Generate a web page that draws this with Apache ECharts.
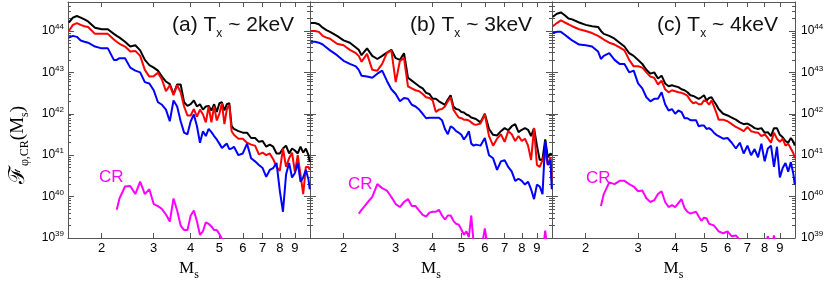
<!DOCTYPE html>
<html><head><meta charset="utf-8">
<script src="https://cdn.jsdelivr.net/npm/echarts@6/dist/echarts.min.js"></script>
<style>html,body{margin:0;padding:0;background:#fff}#c{width:830px;height:286px}</style>
</head><body><div id="c"></div>
<script>
// Shock Mach number grid (shared by all curves)
const mach = [
 1.55,1.6,1.65,1.7,1.75,1.8,1.9,2.0,2.1,2.2,2.25,
 2.3,2.4,2.5,2.6,2.7,2.8,2.9,3.0,3.1,3.2,3.3,3.4,3.5,3.6,3.7,3.8,3.9,
 4.0,4.1,4.2,4.3,4.4,4.5,4.6,4.7,4.8,4.9,5.0,5.1,5.2,5.3,5.4,5.5,5.6,
 5.8,6.0,6.2,6.4,6.6,6.8,7.0,7.2,7.4,7.6,7.8,8.0,8.2,8.4,8.6,8.8,9.0,9.2,9.4,9.6,9.8,10.0,10.1];

// Panel (a) Tx ~ 2keV
const aBlack = [
 1.6e44,2.1e44,2.3e44,2.1e44,1.9e44,1.7e44,1.2e44,1.1e44,1.1e44,8.5e43,7.6e43,
 6.9e43,5.5e43,4.2e43,4.5e43,3.4e43,2.0e43,1.5e43,1.3e43,1.1e43,7.9e42,6.0e42,5.2e42,3.0e42,5.1e42,5.1e42,1.9e42,1.55e42,
 1.7e42,2.1e42,1.5e42,1.7e42,1.26e42,1.5e42,1.55e42,1.2e42,1.7e42,1.1e42,1.8e42,1.9e42,1.2e42,1.7e42,1.8e42,5.0e41,4.3e41,
 3.8e41,3.5e41,3.5e41,2.6e41,2.6e41,2.1e41,2.2e41,1.6e41,1.8e41,1.6e41,1.1e41,1.1e41,1.45e41,1.7e41,1.1e41,1.45e41,1.3e41,1.1e41,1.6e41,1.15e41,1.45e41,1.0e41,6.8e40];
const aRed = [
 1.0e44,1.4e44,1.55e44,1.4e44,1.3e44,1.25e44,8.5e43,8.5e43,8.5e43,6.2e43,5.5e43,
 4.9e43,4.2e43,3.2e43,3.3e43,2.5e43,1.15e43,7.9e42,8.1e42,9.8e42,6.7e42,3.5e42,4.9e42,2.8e42,4.9e42,3.3e42,1.5e42,9.1e41,
 9.1e41,1.3e42,8.5e41,1.26e42,9.6e41,6.2e41,1.5e42,6.2e41,1.5e42,6.9e41,1.0e42,1.8e42,5.6e41,1.3e42,1.65e42,3.8e41,3.1e41,
 2.5e41,2.5e41,2.0e41,1.8e41,1.7e41,1.05e41,1.15e41,1.0e41,1.1e41,8.0e40,5.2e40,4.2e40,1.45e41,5.2e40,8.4e40,1.15e41,3.9e40,1.0e41,3.4e40,1.15e40,5.2e40,5.2e40,4.4e40];
const aBlue = [
 6.9e43,7.6e43,7.2e43,5.9e43,5.5e43,5.2e43,4.2e43,3.8e43,3.8e43,2.0e43,2.0e43,
 2.2e43,2.2e43,1.3e43,1.1e43,1.0e43,5.8e42,5.4e42,3.7e42,1.9e42,1.65e42,1.26e42,6.6e41,2.1e42,1.5e42,6.6e41,3.5e41,3.2e41,
 6.6e41,9.6e41,5.0e41,2.0e41,3.8e41,2.9e41,4.3e41,3.6e41,2.9e41,2.4e41,1.9e41,1.5e41,1.7e41,1.9e41,1.4e41,1.45e41,1.6e41,
 1.0e41,1.1e41,1.9e41,8.4e40,7.1e40,5.8e40,4.9e40,3.0e40,4.4e40,4.9e40,6.5e40,1.4e40,4.3e39,3.4e40,6.5e40,2.9e40,3.7e40,6.5e40,2.3e40,2.9e40,4.4e40,2.6e40,1.5e40];
const aCR = [
 null,null,null,null,null,null,null,null,null,null,4.8e39,
 9.1e39,1.75e40,1.8e40,1.15e40,2.3e40,1.15e40,1.5e40,6.6e39,5.9e39,5.0e39,3.7e39,2.5e39,9e39,4.6e39,2.0e39,1.55e39,1.55e39,
 3.5e39,4.6e39,2.5e39,1.2e39,1.45e39,2.4e39,2.2e39,1.9e39,1.55e39,1.55e39,1.25e39,9.5e38,8e38,null,null,null,null,
 null,null,null,null,null,null,null,null,null,null,null,null,null,null,null,null,null,null,null,null,null,null,null];

// Panel (b) Tx ~ 3keV
const bBlack = [
 1.55e44,1.55e44,1.45e44,1.2e44,1.05e44,9.5e43,7.6e43,5.9e43,5.2e43,4.0e43,3.5e43,
 2.6e43,3.8e43,2.5e43,2.1e43,2.5e43,3.0e43,3.5e43,2.2e43,2.0e43,2.9e43,7.4e42,6.3e42,5.4e42,4.6e42,4.1e42,3.2e42,3.0e42,
 2.3e42,2.3e42,2.0e42,1.8e42,1.65e42,2.2e42,2.8e42,1.5e42,1.3e42,1.26e42,1.1e42,1.07e42,9.6e41,9.1e41,8.1e41,7.8e41,7.5e41,
 6.2e41,1.0e42,4.3e41,3.1e41,3.0e41,3.8e41,4.5e41,4.0e41,5.0e41,5.6e41,3.6e41,4.1e41,4.5e41,4.1e41,2.9e41,4.5e41,1.7e41,7.6e40,8e40,2.4e41,8.9e40,1.1e41,1.0e41];
const bRed = [
 1.0e44,1.0e44,9.5e43,7.6e43,6.9e43,6.5e43,4.9e43,4.5e43,3.5e43,2.9e43,2.5e43,
 1.8e43,2.8e43,1.15e43,1.1e43,1.6e43,2.9e43,3.4e43,5.8e42,1.9e43,2.2e43,4.6e42,4.1e42,3.7e42,3.5e42,3.0e42,2.5e42,2.4e42,
 2.1e42,1.1e42,1.26e42,1.3e42,1.5e42,2.0e42,2.5e42,1.26e42,1.0e42,8.1e41,7.8e41,7.2e41,7.2e41,6.9e41,6.2e41,5.6e41,5.4e41,
 5.8e41,9.6e41,2.9e41,1.7e41,2.5e41,3.2e41,2.1e41,3.8e41,3.2e41,2.2e41,2.9e41,2.2e41,2.5e41,1.7e41,7.6e40,4.5e41,5.8e40,5.2e40,7.6e40,1.2e41,5.8e40,9e40,2.6e40];
const bBlue = [
 5.5e43,5.5e43,5.2e43,4.7e43,4.0e43,3.4e43,2.6e43,1.9e43,1.6e43,1.4e43,1.15e43,
 8.3e42,7.9e42,7.4e42,9.3e42,1.1e43,6.3e42,3.9e42,3.0e42,2.0e42,2.4e42,2.3e42,1.65e42,1.5e42,1.26e42,1.0e42,7.8e41,8e41,
 8e41,8e41,8e41,7e41,4.3e41,3.2e41,5.0e41,4.5e41,3.8e41,3.5e41,3.1e41,2.4e41,2.9e41,3.8e41,1.9e41,1.7e41,1.8e41,
 1.7e41,2.6e41,1.0e41,8.4e40,4.4e40,7.1e40,7.6e40,5.2e40,4.0e40,2.4e40,2.7e40,2.4e40,1.95e40,2.3e40,1.5e40,8.7e39,1.95e40,1.75e40,1.15e40,2.2e41,5.8e40,7.6e40,1.5e40];
const bCR = [
 null,null,null,null,null,null,null,null,null,null,3.9e39,
 4.8e39,7.0e39,9.8e39,2.0e40,1.6e40,1.4e40,9.8e39,6.6e39,5.6e39,7.4e39,8.7e39,5.9e39,5.9e39,4.6e39,3.6e39,3.3e39,4.1e39,
 4.3e39,4.3e39,4.8e39,3.5e39,2.8e39,3.5e39,3.5e39,2.6e39,2.2e39,2.1e39,1.6e39,1.2e39,1.45e39,1.05e39,3.5e39,7.6e38,5e38,
 4e38,1.7e39,4e38,4e38,4e38,4e38,4e38,4e38,4e38,4e38,4e38,4e38,4e38,4e38,4e38,4e38,4e38,4e38,4e38,1.5e39,4e38,4e38,4e38];

// Panel (c) Tx ~ 4keV
const cBlack = [
 2.2e44,2.6e44,2.8e44,2.4e44,2.0e44,1.9e44,1.6e44,1.4e44,1.3e44,1.25e44,1.0e44,
 8.5e43,7.6e43,6.5e43,5.2e43,4.2e43,2.9e43,2.5e43,2.0e43,1.6e43,1.15e43,9.3e42,1.0e43,7.1e42,8.3e42,5.4e42,4.6e42,4.9e42,
 4.6e42,4.4e42,3.9e42,3.7e42,3.3e42,2.8e42,2.7e42,2.5e42,2.3e42,2.5e42,2.8e42,2.1e42,2.4e42,2.5e42,2.0e42,1.65e42,1.3e42,
 1.0e42,9.1e41,8.1e41,7.2e41,6.2e41,5.6e41,5.8e41,5.2e41,4.5e41,4.3e41,4.5e41,3.5e41,3.6e41,2.9e41,4.5e41,4.5e41,3.1e41,2.7e41,2.2e41,2.0e41,2.6e41,2.1e41,1.7e41];
const cRed = [
 1.3e44,1.55e44,1.8e44,1.6e44,1.45e44,1.3e44,1.1e44,1.0e44,8.9e43,7.6e43,6.9e43,
 6.2e43,5.2e43,4.7e43,4.0e43,3.4e43,2.0e43,1.4e43,1.4e43,1.3e43,1.0e43,7.9e42,7.4e42,5.1e42,6.3e42,3.9e42,3.3e42,3.7e42,
 3.5e42,3.3e42,3.2e42,3.0e42,2.7e42,2.1e42,1.8e42,1.9e42,1.7e42,1.7e42,2.1e42,2.0e42,1.65e42,2.1e42,1.5e42,1.07e42,7.2e41,
 7.2e41,6.6e41,5.6e41,4.8e41,4.3e41,3.8e41,4.8e41,3.8e41,3.6e41,3.5e41,2.9e41,3.2e41,2.6e41,2.0e41,3.5e41,2.5e41,2.1e41,2.5e41,1.7e41,1.9e41,1.45e41,1.1e41,8.4e40];
const cBlue = [
 8.9e43,9.5e43,9.5e43,8.1e43,6.9e43,5.9e43,4.7e43,4.5e43,4.2e43,3.2e43,2.1e43,
 2.5e43,2.9e43,2.0e43,1.6e43,1.6e43,1.0e43,1.1e43,5.4e42,4.1e42,2.5e42,2.0e42,2.3e42,2.3e42,3.3e42,1.7e42,1.2e42,1.3e42,
 1.0e42,1.2e42,1.1e42,7.8e41,7.8e41,7e41,7e41,7e41,5.0e41,5.2e41,5.2e41,4.3e41,4.5e41,4.1e41,3.5e41,3.1e41,2.9e41,
 2.5e41,2.6e41,2.0e41,1.45e41,2.0e41,1.1e41,1.7e41,1.0e41,1.4e41,8.9e40,1.9e41,7.1e40,1.45e41,1.7e41,5.2e40,1.6e41,2.9e40,4.9e40,6.5e40,4.0e40,6.8e40,3.4e40,1.95e40];
const cCR = [
 null,null,null,null,null,null,null,null,null,null,5.9e39,
 1.15e40,2.2e40,2.0e40,2.4e40,2.4e40,2.0e40,1.75e40,1.35e40,1.4e40,9.1e39,7.4e39,8.2e39,1.15e40,1.35e40,7.4e39,5.6e39,6.2e39,
 5.6e39,7.0e39,8.7e39,5.3e39,4.3e39,3.9e39,4.1e39,4.3e39,3.3e39,2.6e39,3.1e39,3.0e39,2.2e39,2.1e39,2.0e39,1.7e39,1.45e39,
 1.3e39,1.45e39,1.1e39,1.15e39,9e38,6.8e38,5e38,5e38,5e38,5e38,5e38,5e38,1.1e39,5e38,1.15e39,5e38,5e38,5e38,5e38,5e38,5e38,5e38,5e38];

// Tick labels
const xTickLabels = [2,3,4,5,6,7,8,9];
const yTickExponents = [39,40,41,42,43,44];
const panelLetters = ['(a)','(b)','(c)'];
const panelTemps = ['2keV','3keV','4keV'];

const panels = [
  {black:aBlack, red:aRed, blue:aBlue, cr:aCR},
  {black:bBlack, red:bRed, blue:bBlue, cr:bCR},
  {black:cBlack, red:cRed, blue:cBlue, cr:cCR}
];

const X_MIN = 1.54, X_MAX = 10.12, Y_MIN = 1e39, Y_MAX = 5e44;
const LX0 = Math.log10(X_MIN), LX1 = Math.log10(X_MAX);
const LY0 = Math.log10(Y_MIN), LY1 = Math.log10(Y_MAX);
const gridBoxes = [{left:68,width:242},{left:310,width:242},{left:552,width:243}];
const AX = '#555';
const SANS = 'Liberation Sans, Arial, sans-serif';
const SERIF = 'Liberation Serif, Times New Roman, serif';

const xTickPos = xTickLabels.map(v => Math.log10(v));
const yMajorPos = yTickExponents.slice();
const yMinorPos = [];
yTickExponents.forEach(n => { for (let k = 2; k <= 9; k++) { const p = n + Math.log10(k); if (p < LY1) yMinorPos.push(p); } });

function pairs(arr) { const out = []; mach.forEach((m, i) => { if (arr[i] != null) out.push([m, arr[i]]); }); return out; }

const grid = gridBoxes.map(g => ({left:g.left, width:g.width, top:2, height:243}));
const xAxis = [], yAxis = [], series = [];
const yLabelRich = {
  b:{fontSize:12, lineHeight:16, fontFamily:SANS, color:'#000'},
  s:{fontSize:8, lineHeight:8, verticalAlign:'top', fontFamily:SANS, color:'#000'}
};
panels.forEach((p, i) => {
  const xi = xAxis.length, yi = yAxis.length;
  xAxis.push({type:'log', gridIndex:i, min:X_MIN, max:X_MAX, show:false});
  xAxis.push({type:'value', gridIndex:i, min:LX0, max:LX1, position:'bottom',
    axisLine:{show:true, onZero:false, lineStyle:{color:AX, width:1}},
    axisTick:{show:true, inside:true, length:5, customValues:xTickPos, lineStyle:{color:AX}},
    axisLabel:{show:true, customValues:xTickPos, margin:4, color:'#000', fontSize:13, fontFamily:SANS,
      formatter: v => String(Math.round(Math.pow(10, v)))},
    splitLine:{show:false},
    name:'{m|M}{s|s}', nameLocation:'middle', nameGap:19,
    nameTextStyle:{rich:{
      m:{fontSize:17, lineHeight:24, fontFamily:SERIF, color:'#000'},
      s:{fontSize:12, lineHeight:12, verticalAlign:'bottom', fontFamily:SERIF, color:'#000'}}}
  });
  xAxis.push({type:'value', gridIndex:i, min:LX0, max:LX1, position:'top',
    axisLine:{show:true, onZero:false, lineStyle:{color:AX, width:1}},
    axisTick:{show:true, inside:true, length:5, customValues:xTickPos, lineStyle:{color:AX}},
    axisLabel:{show:false}, splitLine:{show:false}});

  yAxis.push({type:'log', gridIndex:i, min:Y_MIN, max:Y_MAX, show:false});
  ['left','right'].forEach(side => {
    const showLab = (side === 'left' && i === 0) || (side === 'right' && i === 2);
    yAxis.push({type:'value', gridIndex:i, min:LY0, max:LY1, position:side,
      axisLine:{show:true, onZero:false, lineStyle:{color:AX, width:1}},
      axisTick:{show:true, inside:true, length:6, customValues:yMajorPos, lineStyle:{color:AX}},
      axisLabel:{show:showLab, customValues:yMajorPos, margin: side === 'left' ? 4 : 6,
        formatter: v => '{b|10}{s|' + Math.round(v) + '}', rich:yLabelRich},
      splitLine:{show:false}});
    yAxis.push({type:'value', gridIndex:i, min:LY0, max:LY1, position:side,
      axisLine:{show:false, onZero:false},
      axisTick:{show:true, inside:true, length:3, customValues:yMinorPos, lineStyle:{color:AX}},
      axisLabel:{show:false}, splitLine:{show:false}});
  });

  const mk = (arr, color) => ({type:'line', xAxisIndex:xi, yAxisIndex:yi, data:pairs(arr),
    symbol:'none', clip:true, lineStyle:{color, width:2}, itemStyle:{color}, silent:true});
  series.push(mk(p.black, '#000000'));
  series.push(mk(p.red, '#ff0000'));
  series.push(mk(p.blue, '#0000ff'));
  series.push(mk(p.cr, '#ff00ff'));
});

const titleLefts = [172, 410, 657];
const crPos = [[99,169],[348,176],[586,170]];
const title = [];
panelLetters.forEach((L, i) => {
  title.push({text:'{t|' + L + ' T}{x|x}{t| ~ ' + panelTemps[i] + '}', left:titleLefts[i], top:10, padding:0,
    textStyle:{fontWeight:'normal', rich:{
      t:{fontSize:21, lineHeight:30, fontFamily:SANS, fontWeight:'normal', color:'#111'},
      x:{fontSize:12, lineHeight:12, verticalAlign:'bottom', fontFamily:SANS, fontWeight:'normal', color:'#111'}}}});
  title.push({text:'CR', left:crPos[i][0], top:crPos[i][1], padding:0,
    textStyle:{fontSize:17, lineHeight:17, fontFamily:SANS, fontWeight:'normal', color:'#ff00ff'}});
});

const graphic = [{
  type:'text', x:18, y:145, rotation:Math.PI/2, silent:true,
  style:{
    text:'{f|\u2131}{sub|\u03c6,CR}{p|(M}{sub|s}{p|)}',
    align:'center', verticalAlign:'middle',
    rich:{
      f:{fontSize:22, lineHeight:26, fontFamily:'DejaVu Serif, serif', fill:'#000'},
      sub:{fontSize:12, lineHeight:12, verticalAlign:'bottom', fontFamily:SERIF, fill:'#000'},
      p:{fontSize:19, lineHeight:26, fontFamily:SERIF, fill:'#000'}
    }
  }
}];

const chart = echarts.init(document.getElementById('c'), null, {renderer:'canvas'});
chart.setOption({backgroundColor:'#fff', animation:false, grid, xAxis, yAxis, series, title, graphic});
</script></body></html>
